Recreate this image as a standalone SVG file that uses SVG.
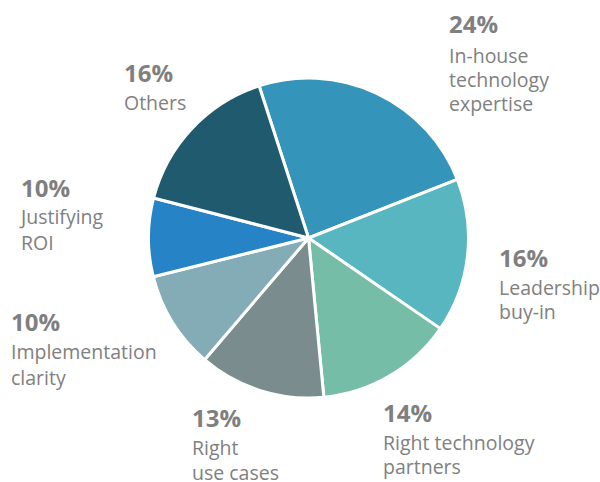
<svg xmlns="http://www.w3.org/2000/svg" width="600" height="482" viewBox="0 0 600 482">
<style>
.slice{stroke:#fff;stroke-width:3;stroke-linejoin:round}
.pct{font-family:"Open Sans","Noto Sans","Liberation Sans",sans-serif;font-weight:700;font-size:24px;fill:#7f7f7f}
.lbl{font-family:"Open Sans","Noto Sans","Liberation Sans",sans-serif;font-size:19.5px;fill:#808080}
</style>
<rect width="600" height="482" fill="#fff"/>
<g id="inhouse">
<path class="slice" fill="#3494BA" d="M308.5 238 L259.06 85.83 A160 160 0 0 1 457.37 179.36 Z"/>
<text class="pct" x="449" y="33">24%</text>
<text class="lbl" x="449" y="63">In-house</text>
<text class="lbl" x="449" y="87">technology</text>
<text class="lbl" x="449" y="111">expertise</text>
</g>
<g id="leadership">
<path class="slice" fill="#58B6C0" d="M308.5 238 L457.37 179.36 A160 160 0 0 1 440.36 328.63 Z"/>
<text class="pct" x="499" y="267">16%</text>
<text class="lbl" x="499" y="295">Leadership</text>
<text class="lbl" x="499" y="319">buy-in</text>
</g>
<g id="partners">
<path class="slice" fill="#75BDA7" d="M308.5 238 L440.36 328.63 A160 160 0 0 1 323.84 397.26 Z"/>
<text class="pct" x="383" y="422">14%</text>
<text class="lbl" x="383" y="450">Right technology</text>
<text class="lbl" x="383" y="474">partners</text>
</g>
<g id="usecases">
<path class="slice" fill="#7A8C8E" d="M308.5 238 L323.84 397.26 A160 160 0 0 1 204.59 359.67 Z"/>
<text class="pct" x="192" y="427">13%</text>
<text class="lbl" x="192" y="455">Right</text>
<text class="lbl" x="192" y="480">use cases</text>
</g>
<g id="implementation">
<path class="slice" fill="#84ACB6" d="M308.5 238 L204.59 359.67 A160 160 0 0 1 153.25 276.71 Z"/>
<text class="pct" x="11" y="331">10%</text>
<text class="lbl" x="11" y="359">Implementation</text>
<text class="lbl" x="11" y="385">clarity</text>
</g>
<g id="roi">
<path class="slice" fill="#2683C6" d="M308.5 238 L153.25 276.71 A160 160 0 0 1 153.60 197.94 Z"/>
<text class="pct" x="21" y="197">10%</text>
<text class="lbl" x="21" y="224">Justifying</text>
<text class="lbl" x="21" y="250">ROI</text>
</g>
<g id="others">
<path class="slice" fill="#1F5A6F" d="M308.5 238 L153.60 197.94 A160 160 0 0 1 259.06 85.83 Z"/>
<text class="pct" x="124" y="82">16%</text>
<text class="lbl" x="124" y="110">Others</text>
</g>
</svg>
